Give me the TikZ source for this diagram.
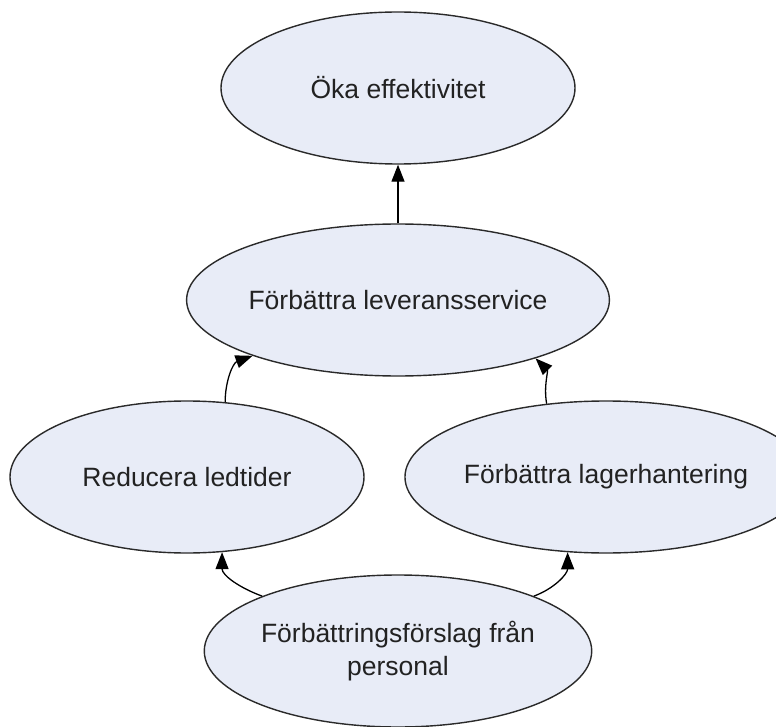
\documentclass[tikz,border=0pt]{standalone}
\usepackage{fontspec}
\setmainfont{Liberation Sans}
\usetikzlibrary{shapes.geometric,arrows.meta}
\definecolor{goalfill}{HTML}{E8ECF7}
\definecolor{goaledge}{HTML}{2A2A2A}
\definecolor{goaltext}{HTML}{222222}
\begin{document}
\begin{tikzpicture}[x=1pt,y=-1pt,
  goal/.style={ellipse, draw=goaledge, line width=1.4pt, fill=goalfill,
    minimum width=354pt, minimum height=152pt, inner sep=0pt,
    align=center, text=goaltext, font=\fontsize{26.5}{33}\selectfont},
  link/.style={line width=1.3pt, -{Triangle[length=17pt,width=13pt]}}]
\useasboundingbox (0,0) rectangle (776,727);
% goal ellipses
\node[goal] (eff) at (398,88) {Öka effektivitet};
\node[goal] (lev) at (398,300) {Förbättra leveransservice};
\node[goal] (led) at (187,477) {Reducera ledtider};
\node[goal, minimum width=341pt] (lag) at (606,477) {Förbättra lagerhantering};
\node[goal] (pers) at (398,651) {Förbättringsförslag från\\personal};
% links between goals
\draw[link] (lev.north) -- (eff.south);
\draw[link] (led.63) to[out=90,in=200] (lev.201);
\draw[link] (lag.129) to[out=100,in=-45] (lev.-23);
\draw[link] (pers.158) to[out=160,in=-90] (led.-65);
\draw[link] (pers.22) to[out=20,in=-90] (lag.-117);
\end{tikzpicture}
\end{document}
